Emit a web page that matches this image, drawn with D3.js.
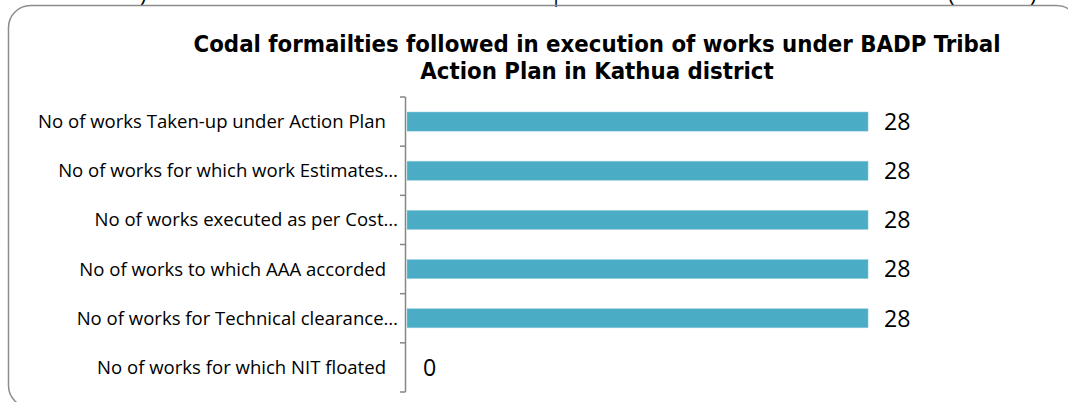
<!DOCTYPE html>
<html>
<head>
<meta charset="utf-8">
<script src="https://cdn.jsdelivr.net/npm/d3@7"></script>
<style>
  html, body { margin: 0; padding: 0; background: #fff; }
  svg { display: block; }
</style>
</head>
<body>
<div id="chart"></div>
<script>
const categories = [
  "No of works Taken-up under Action Plan",
  "No of works for which work Estimates…",
  "No of works executed as per Cost…",
  "No of works to which AAA accorded",
  "No of works for Technical clearance…",
  "No of works for which NIT floated"
];
const values = [28, 28, 28, 28, 28, 0];
const titleLines = [
  "Codal formailties followed in execution of works under BADP Tribal",
  "Action Plan in Kathua district"
];

const width = 1068;
const height = 402;
const titleFont = "'DejaVu Sans Condensed', 'DejaVu Sans', sans-serif";
const font = "'Open Sans', Lato, sans-serif";

const svg = d3.select("#chart").append("svg")
  .attr("width", width)
  .attr("height", height)
  .attr("viewBox", [0, 0, width, height]);

// scale a text's font size so it spans the given width
function fitSize(text, family, weight, size, target) {
  const t = svg.append("text")
    .attr("font-family", family)
    .attr("font-weight", weight)
    .attr("font-size", size)
    .text(text);
  const w = t.node().getComputedTextLength();
  t.remove();
  return size * target / w;
}

const titleSize = fitSize(titleLines[0], titleFont, "bold", 20, 807);
const labelSize = fitSize(categories[0], font, "normal", 16, 348);

// bits of the page text above the chart, cut off by the crop
svg.append("g")
  .attr("font-family", font)
  .attr("font-size", 22)
  .selectAll("text")
  .data([[140, ")"], [550, "|"], [948, "("], [1030, ")"]])
  .join("text")
  .attr("x", (d) => d[0])
  .attr("y", 2)
  .text((d) => d[1]);

// chart frame
svg.append("rect")
  .attr("x", 8.5)
  .attr("y", 5.5)
  .attr("width", 1070)
  .attr("height", 402)
  .attr("rx", 22)
  .attr("fill", "none")
  .attr("stroke", "#8c8c8c")
  .attr("stroke-width", 1.5);

svg.append("text")
  .attr("font-family", titleFont)
  .attr("font-weight", "bold")
  .attr("font-size", titleSize)
  .attr("text-anchor", "middle")
  .attr("fill", "#000")
  .selectAll("tspan")
  .data(titleLines)
  .join("tspan")
  .attr("x", 597)
  .attr("y", (d, i) => 52 + i * 27)
  .text((d) => d);

const y = d3.scaleBand()
  .domain(categories)
  .range([97, 392])
  .paddingInner(0.61)
  .paddingOuter(0.305);

const x = d3.scaleLinear()
  .domain([0, 30])
  .range([406, 900]);

// category axis with ticks between the bands
const step = y.step();
const bounds = d3.range(categories.length + 1).map((i) => 97 + i * step);

const axis = svg.append("g").attr("stroke", "#868686").attr("stroke-width", 1.5);
axis.append("line")
  .attr("x1", 405.5).attr("x2", 405.5)
  .attr("y1", 97).attr("y2", 392);
axis.selectAll("line.tick")
  .data(bounds)
  .join("line")
  .attr("class", "tick")
  .attr("x1", 400).attr("x2", 405.5)
  .attr("y1", (d) => d).attr("y2", (d) => d);

svg.append("g")
  .selectAll("rect")
  .data(values)
  .join("rect")
  .attr("x", x(0) + 1)
  .attr("y", (d, i) => y(categories[i]))
  .attr("width", (d) => x(d) - x(0))
  .attr("height", y.bandwidth())
  .attr("fill", "#4bacc6")
  .attr("stroke", "#9fd3e0")
  .attr("stroke-width", 0.5);

svg.append("g")
  .attr("font-family", font)
  .attr("font-size", labelSize)
  .attr("text-anchor", "end")
  .attr("fill", "#000")
  .selectAll("text")
  .data(categories)
  .join("text")
  .attr("x", (d) => d.endsWith("…") ? 398 : 386)
  .attr("y", (d) => y(d) + y.bandwidth() / 2)
  .attr("dy", "0.35em")
  .text((d) => d);

svg.append("g")
  .attr("font-family", font)
  .attr("font-size", labelSize * 1.25)
  .attr("fill", "#000")
  .selectAll("text")
  .data(values)
  .join("text")
  .attr("x", (d) => x(d) + 17)
  .attr("y", (d, i) => y(categories[i]) + y.bandwidth() / 2)
  .attr("dy", "0.36em")
  .text((d) => d);
</script>
</body>
</html>
